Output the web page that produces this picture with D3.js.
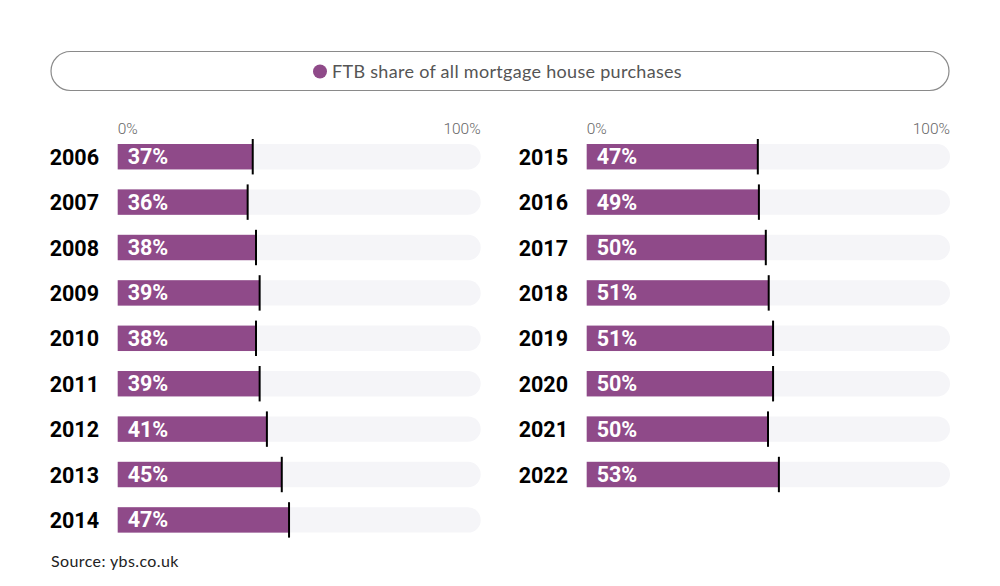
<!DOCTYPE html>
<html>
<head>
<meta charset="utf-8">
<script src="https://cdn.jsdelivr.net/npm/d3@7"></script>
<style>
  html, body { margin: 0; padding: 0; background: #ffffff; }
  svg { display: block; }
</style>
</head>
<body>
<svg id="chart" width="1000" height="586"></svg>
<script>
// ---- data ----
const yearsLeft = ["2006", "2007", "2008", "2009", "2010", "2011", "2012", "2013", "2014"];
const valuesLeft = [37.2, 35.8, 38.1, 39.1, 38.1, 39.1, 41.1, 45.2, 47.2];
const labelsLeft = ["37%", "36%", "38%", "39%", "38%", "39%", "41%", "45%", "47%"];

const yearsRight = ["2015", "2016", "2017", "2018", "2019", "2020", "2021", "2022"];
const valuesRight = [47.1, 47.4, 49.3, 50.1, 51.3, 51.3, 49.9, 52.9];
const labelsRight = ["47%", "49%", "50%", "51%", "51%", "50%", "50%", "53%"];

const axisTicks = [0, 100];
const legendLabel = "FTB share of all mortgage house purchases";
const sourceText = "Source: ybs.co.uk";

// ---- drawing ----
const svg = d3.select("#chart");
const purple = "#8f4a89";
const track = "#f5f5f8";

// legend pill
svg.append("rect")
  .attr("x", 51).attr("y", 51.5).attr("width", 898).attr("height", 39)
  .attr("rx", 19.5).attr("ry", 19.5)
  .attr("fill", "#fff").attr("stroke", "#8a8a8a").attr("stroke-width", 1.2);
svg.append("circle").attr("cx", 320).attr("cy", 71.5).attr("r", 7).attr("fill", purple);
svg.append("text")
  .attr("x", 332).attr("y", 77.5)
  .attr("font-family", "Lato, sans-serif").attr("font-size", 18).attr("letter-spacing", 0.3)
  .attr("fill", "#555").text(legendLabel);

const step = 45.4, pad = 0.44;

function panel(x0, x1, years, values, labels) {
  const x = d3.scaleLinear().domain([0, 100]).range([x0, x1]);
  const yStart = 144 - step * pad / 2;
  const y = d3.scaleBand().domain(years)
    .range([yStart, yStart + years.length * step])
    .paddingInner(pad).paddingOuter(pad / 2);
  const bh = y.bandwidth();

  // axis tick labels
  const g = svg.append("g");
  g.selectAll("text.tick").data(axisTicks).enter().append("text")
    .attr("class", "tick")
    .attr("x", d => x(d))
    .attr("y", 134)
    .attr("text-anchor", d => d === 0 ? "start" : "end")
    .attr("font-family", "Roboto, sans-serif").attr("font-weight", 300).attr("font-size", 15.5)
    .attr("fill", "#666")
    .text(d => d + "%");

  const rows = g.selectAll("g.row").data(years).enter().append("g").attr("class", "row");

  // track (rounded on right)
  rows.append("rect")
    .attr("x", x(0)).attr("y", d => y(d))
    .attr("width", x(100) - x(0)).attr("height", bh)
    .attr("rx", bh / 2).attr("fill", track);
  rows.append("rect")
    .attr("x", x(0)).attr("y", d => y(d))
    .attr("width", 20).attr("height", bh).attr("fill", track);

  // bar
  rows.append("rect")
    .attr("x", x(0)).attr("y", d => y(d))
    .attr("width", (d, i) => x(values[i]) - x(0)).attr("height", bh)
    .attr("fill", purple);

  // marker line
  rows.append("line")
    .attr("x1", (d, i) => x(values[i])).attr("x2", (d, i) => x(values[i]))
    .attr("y1", d => y(d) - 5).attr("y2", d => y(d) + bh + 5)
    .attr("stroke", "#000").attr("stroke-width", 2);

  // value label
  rows.append("text")
    .attr("x", x(0) + 10).attr("y", d => y(d) + bh / 2 + 7.5)
    .attr("font-family", "Roboto, sans-serif").attr("font-weight", 700).attr("font-size", 21.5)
    .attr("fill", "#fff")
    .text((d, i) => labels[i]);

  // year label
  rows.append("text")
    .attr("x", x(0) - 68).attr("y", d => y(d) + bh / 2 + 8)
    .attr("font-family", "Roboto, sans-serif").attr("font-weight", 700).attr("font-size", 21.5)
    .attr("fill", "#000")
    .text(d => d);
}

panel(117.7, 480.7, yearsLeft, valuesLeft, labelsLeft);
panel(586.7, 950, yearsRight, valuesRight, labelsRight);

svg.append("text")
  .attr("x", 51).attr("y", 567)
  .attr("font-family", "Lato, sans-serif").attr("font-size", 16).attr("letter-spacing", 0.4)
  .attr("fill", "#222").text(sourceText);
</script>
</body>
</html>
